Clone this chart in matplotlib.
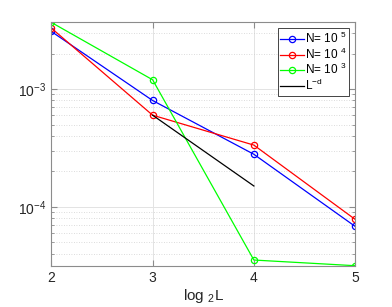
import matplotlib
matplotlib.use('Agg')
import matplotlib.pyplot as plt
from matplotlib.ticker import LogLocator, NullFormatter, FixedLocator

plt.rcParams['font.family'] = ['Liberation Sans', 'DejaVu Sans']
plt.rcParams['mathtext.fontset'] = 'custom'
plt.rcParams['mathtext.rm'] = 'Liberation Sans'
plt.rcParams['mathtext.it'] = 'Liberation Sans'

log2L = [2, 3, 4, 5]
err_1e5 = [3.09e-3, 8.0e-4, 2.79e-4, 6.8e-5]
err_1e4 = [3.30e-3, 6.0e-4, 3.34e-4, 7.8e-5]
err_1e3 = [3.69e-3, 1.2e-3, 3.52e-5, 3.15e-5]
ref_x = [3, 4]
ref_y = [6.0e-4, 1.5e-4]

fig = plt.figure(figsize=(3.92, 3.07), dpi=100)
ax = fig.add_axes([0.131, 0.1345, 0.775, 0.7925])

ax.plot(log2L, err_1e5, '-o', color='b', lw=0.9, ms=4.5, mfc='none', mew=0.9, label='N= 10 $^{5}$')
ax.plot(log2L, err_1e4, '-o', color='r', lw=0.9, ms=4.5, mfc='none', mew=0.9, label='N= 10 $^{4}$')
ax.plot(log2L, err_1e3, '-o', color='#00ff00', lw=0.9, ms=4.5, mfc='none', mew=0.9, label='N= 10 $^{3}$')
ax.plot(ref_x, ref_y, '-', color='k', lw=0.9, label='L$^{-d}$')

ax.set_yscale('log')
ax.set_xlim(2, 5)
ax.set_ylim(min(err_1e3), max(err_1e3))
ax.xaxis.set_major_locator(FixedLocator(log2L))
ax.yaxis.set_major_locator(LogLocator(base=10))
ax.yaxis.set_minor_locator(LogLocator(base=10, subs=range(2, 10)))
ax.yaxis.set_minor_formatter(NullFormatter())

ax.grid(True, which='major', color='#e3e3e3', lw=0.7, ls='-')
ax.grid(True, which='minor', axis='y', color='#d0d0d0', lw=0.6, ls=(0, (1, 2)))
ax.set_axisbelow(True)

for s in ax.spines.values():
    s.set_color('#8c8c8c')
    s.set_linewidth(0.8)
ax.tick_params(which='both', direction='in', top=True, right=True, colors='#262626', labelsize=10)
ax.tick_params(which='major', length=4, color='#8c8c8c')
ax.tick_params(which='minor', length=2, color='#8c8c8c')

ax.set_xlabel('log $_{2}$L', fontsize=11, color='#262626', labelpad=2)

leg = ax.legend(loc='upper right', fontsize=8.5, fancybox=False, framealpha=1,
                edgecolor='#262626', handlelength=2.0, borderpad=0.2, labelspacing=0.05,
                handletextpad=0.15, borderaxespad=0.5)
leg.get_frame().set_linewidth(0.6)

fig.savefig('out.png', dpi=100)
